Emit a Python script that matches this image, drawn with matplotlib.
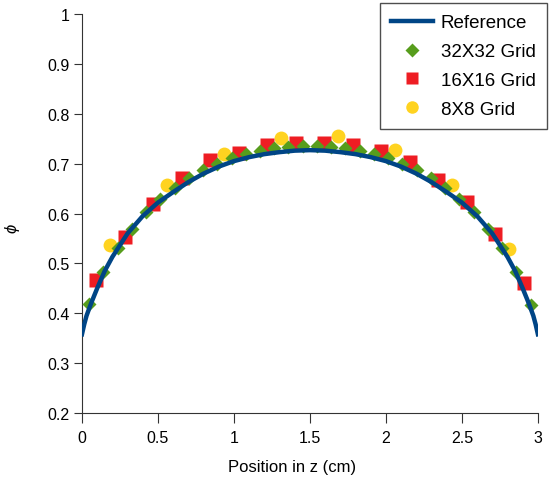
import numpy as np
import matplotlib
matplotlib.use('Agg')
import matplotlib.pyplot as plt

plt.rcParams.update({'font.size': 10.5, 'font.family': 'Liberation Sans'})

# Reference solution
z_ref = [0.0, 0.015, 0.03, 0.06, 0.10, 0.15, 0.20, 0.30, 0.40, 0.50, 0.60, 0.70,
         0.80, 0.90, 1.00, 1.10, 1.20, 1.30, 1.40, 1.50, 1.60, 1.70, 1.80, 1.90,
         2.00, 2.10, 2.20, 2.30, 2.40, 2.50, 2.60, 2.70, 2.80, 2.85, 2.90, 2.94,
         2.97, 2.985, 3.0]
phi_ref = [0.358, 0.378, 0.395, 0.420, 0.450, 0.485, 0.513, 0.560, 0.595, 0.622,
           0.643, 0.663, 0.680, 0.694, 0.705, 0.713, 0.719, 0.723, 0.726, 0.727,
           0.726, 0.723, 0.719, 0.713, 0.705, 0.694, 0.680, 0.663, 0.643, 0.622,
           0.595, 0.560, 0.513, 0.485, 0.450, 0.420, 0.395, 0.378, 0.358]

# 32X32 grid
z_32 = [0.047, 0.141, 0.234, 0.328, 0.422, 0.516, 0.609, 0.703, 0.797, 0.891,
        0.984, 1.078, 1.172, 1.266, 1.359, 1.453, 1.547, 1.641, 1.734, 1.828,
        1.922, 2.016, 2.109, 2.203, 2.297, 2.391, 2.484, 2.578, 2.672, 2.766,
        2.859, 2.953]
phi_32 = [0.418, 0.483, 0.531, 0.569, 0.603, 0.630, 0.652, 0.671, 0.687, 0.700,
          0.711, 0.719, 0.726, 0.731, 0.734, 0.735, 0.735, 0.734, 0.731, 0.726,
          0.719, 0.711, 0.700, 0.687, 0.671, 0.652, 0.630, 0.603, 0.569, 0.531,
          0.483, 0.416]

# 16X16 grid
z_16 = [0.094, 0.281, 0.469, 0.656, 0.844, 1.031, 1.219, 1.406, 1.594, 1.781,
        1.969, 2.156, 2.344, 2.531, 2.719, 2.906]
phi_16 = [0.467, 0.553, 0.620, 0.672, 0.708, 0.722, 0.737, 0.742, 0.742, 0.738,
          0.725, 0.703, 0.668, 0.623, 0.559, 0.460]

# 8X8 grid
z_8 = [0.1875, 0.5625, 0.9375, 1.3125, 1.6875, 2.0625, 2.4375, 2.8125]
phi_8 = [0.537, 0.657, 0.719, 0.751, 0.756, 0.728, 0.657, 0.529]

fig = plt.figure(figsize=(5.5, 4.81), dpi=100)
ax = fig.add_axes([0.149, 0.139, 0.829, 0.830])

ax.plot(z_ref, phi_ref, color='#004586', lw=3.2, zorder=5, label='Reference')
ax.plot(z_32, phi_32, 'D', color='#579d1c', ms=7, mec='none', zorder=4, label='32X32 Grid')
ax.plot(z_16, phi_16, 's', color='#ee1d23', ms=10, mec='none', zorder=3, label='16X16 Grid')
ax.plot(z_8, phi_8, 'o', color='#ffd320', ms=10, mec='none', zorder=2, label='8X8 Grid')

ax.set_xlim(0, 3)
ax.set_ylim(0.2, 1)
ax.set_xticks([0, 0.5, 1, 1.5, 2, 2.5, 3])
ax.set_xticklabels(['0', '0.5', '1', '1.5', '2', '2.5', '3'])
ax.set_yticks(np.arange(0.2, 1.01, 0.1))
ax.set_yticklabels(['0.2', '0.3', '0.4', '0.5', '0.6', '0.7', '0.8', '0.9', '1'])
for s in ['top', 'right']:
    ax.spines[s].set_visible(False)
for s in ['left', 'bottom']:
    ax.spines[s].set_color('#333333')
ax.tick_params(axis='x', length=7, color='#333333', labelsize=11.5, pad=5)
ax.tick_params(axis='y', length=6, color='#333333', labelsize=11.5, pad=3)
ax.set_xlabel('Position in z (cm)', fontsize=12)
ax.xaxis.set_label_coords(0.46, -0.115)
ax.set_ylabel('ϕ', fontsize=12, style='italic')
ax.yaxis.set_label_coords(-0.136, 0.466)

leg = ax.legend(loc='upper right', bbox_to_anchor=(547 / 550, 1 - 4 / 481),
                bbox_transform=fig.transFigure, borderaxespad=0, fontsize=13.5,
                frameon=True, fancybox=False, edgecolor='#222222',
                handlelength=2.25, handletextpad=0.4, borderpad=0.6,
                labelspacing=0.62)
leg.get_frame().set_linewidth(1.0)
leg.legend_handles[1].set_markersize(7)
leg.legend_handles[2].set_markersize(9)
leg.legend_handles[3].set_markersize(9)

plt.savefig('out.png', dpi=100)
